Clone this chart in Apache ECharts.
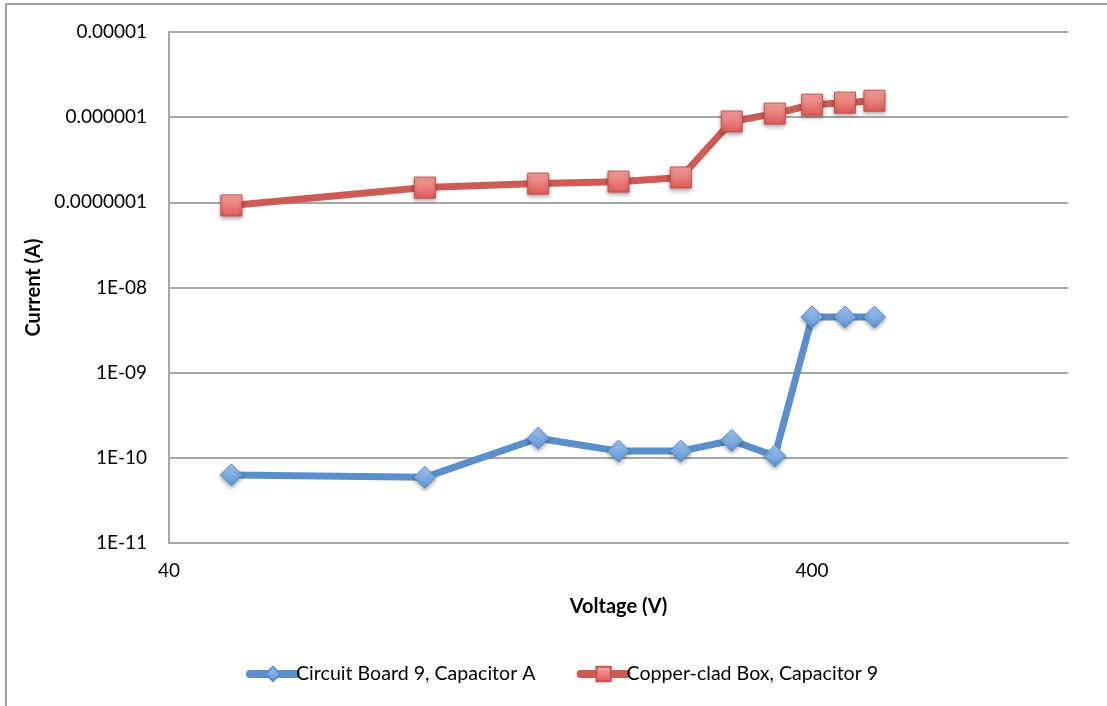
<!DOCTYPE html>
<html>
<head>
<meta charset="utf-8">
<script src="https://cdn.jsdelivr.net/npm/echarts@6/dist/echarts.min.js"></script>
<style>
html,body{margin:0;padding:0;background:#fff;}
#chart{width:1107px;height:706px;}
</style>
</head>
<body>
<div id="chart"></div>
<script>
const voltage = [50, 100, 150, 200, 250, 300, 350, 400, 450, 500];
const circuitBoard = [6.3e-11, 5.9e-11, 1.7e-10, 1.2e-10, 1.2e-10, 1.6e-10, 1.05e-10, 4.5e-9, 4.5e-9, 4.5e-9];
const copperBox = [9.2e-8, 1.49e-7, 1.66e-7, 1.75e-7, 1.96e-7, 8.9e-7, 1.1e-6, 1.4e-6, 1.48e-6, 1.56e-6];
const seriesNames = ['Circuit Board 9, Capacitor A', 'Copper-clad Box, Capacitor 9'];
const xTickValues = [40, 400];
const yTickLabels = {'-5': '0.00001', '-6': '0.000001', '-7': '0.0000001', '-8': '1E-08', '-9': '1E-09', '-10': '1E-10', '-11': '1E-11'};

const FONT = 'Lato';
const chart = echarts.init(document.getElementById('chart'));
const grad = (a, b) => new echarts.graphic.LinearGradient(0, 0, 0, 1, [{offset: 0, color: a}, {offset: 1, color: b}]);

chart.setOption({
  animation: false,
  textStyle: {fontFamily: FONT},
  graphic: [{
    type: 'rect', shape: {x: 6, y: 4, width: 1200, height: 800},
    style: {fill: 'none', stroke: '#A0A0A0', lineWidth: 2}, silent: true
  }],
  grid: {left: 169, right: 39, top: 32, bottom: 163},
  legend: {
    top: 659, left: 241, itemWidth: 46, itemHeight: 18, itemGap: 41,
    lineStyle: {width: 8, cap: 'round'},
    textStyle: {fontFamily: FONT, fontSize: 19.6, color: '#000', padding: [0, 0, 0, -5]},
    data: seriesNames
  },
  xAxis: {
    type: 'log', logBase: 10, min: 40, max: 1000,
    name: 'Voltage (V)', nameLocation: 'middle', nameGap: 54,
    nameTextStyle: {fontFamily: FONT, fontSize: 20, fontWeight: 'bold', color: '#000'},
    axisLine: {show: true, lineStyle: {color: '#A6A6A6', width: 2}},
    axisTick: {show: false},
    splitLine: {show: false},
    axisLabel: {customValues: xTickValues, fontSize: 19, color: '#000', margin: 18, fontFamily: FONT,
      formatter: v => String(Math.round(v))}
  },
  yAxis: {
    type: 'log', logBase: 10, min: 1e-11, max: 1e-5, splitNumber: 6,
    name: 'Current (A)', nameLocation: 'middle', nameGap: 122, nameRotate: 90,
    nameTextStyle: {fontFamily: FONT, fontSize: 20, fontWeight: 'bold', color: '#000'},
    axisLine: {show: true, lineStyle: {color: '#A6A6A6', width: 2}},
    axisTick: {show: false},
    splitLine: {show: true, lineStyle: {color: '#A6A6A6', width: 2}},
    axisLabel: {fontSize: 19, color: '#000', margin: 22, fontFamily: FONT,
      formatter: v => yTickLabels[String(Math.round(Math.log10(v)))] || ''}
  },
  series: [{
    name: seriesNames[0], type: 'line',
    data: voltage.map((x, i) => [x, circuitBoard[i]]),
    symbol: 'diamond', symbolSize: 22,
    lineStyle: {color: '#5A8FCB', width: 7, cap: 'round', join: 'round'},
    itemStyle: {color: grad('#A4C8F2', '#5C93D6'), borderColor: '#5A8FCB', borderWidth: 1,
      shadowBlur: 4, shadowOffsetY: 2, shadowColor: 'rgba(0,0,0,0.35)'}
  }, {
    name: seriesNames[1], type: 'line',
    data: voltage.map((x, i) => [x, copperBox[i]]),
    symbol: 'rect', symbolSize: 21,
    lineStyle: {color: '#CD5C57', width: 7, cap: 'round', join: 'round'},
    itemStyle: {color: grad('#F7A4A1', '#DE5A56'), borderColor: '#C8514D', borderWidth: 1,
      shadowBlur: 4, shadowOffsetY: 2, shadowColor: 'rgba(0,0,0,0.35)'}
  }]
});
</script>
</body>
</html>
